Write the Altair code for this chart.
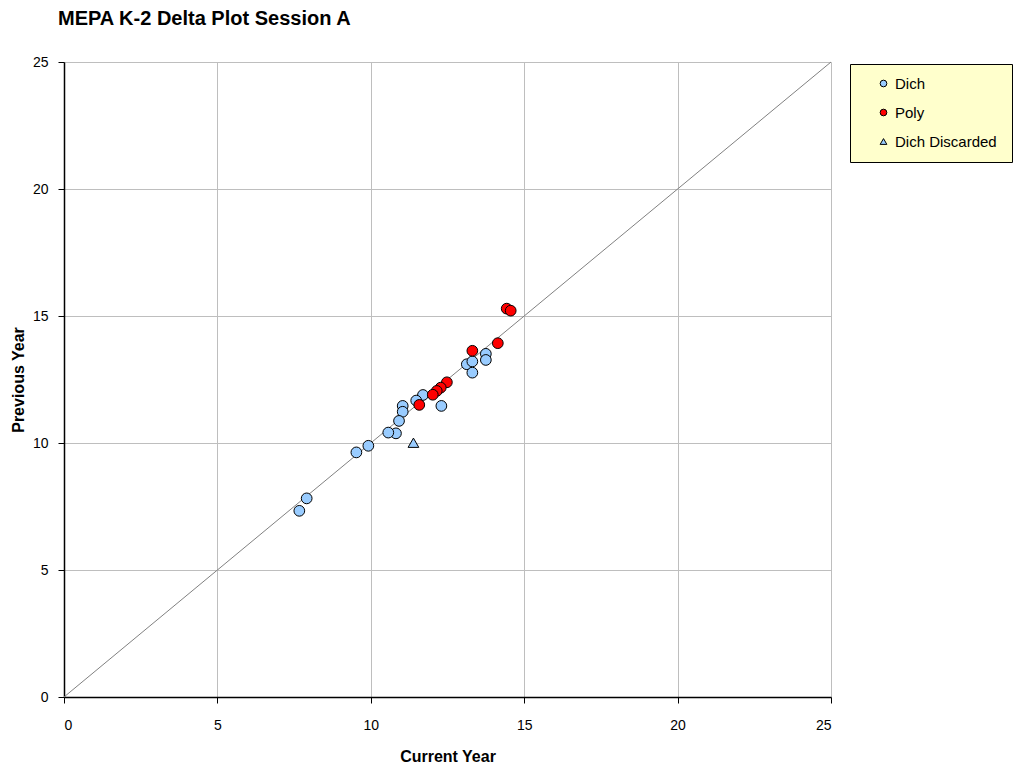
import altair as alt
import pandas as pd

# Dich items (Current Year, Previous Year)
dich_x = [13.75, 13.75, 13.13, 13.31, 13.31, 12.30, 11.70, 11.48, 11.04, 11.04, 10.92, 10.82, 10.57, 9.92, 9.53, 7.67, 7.91]
dich_y = [13.51, 13.27, 13.10, 13.21, 12.77, 11.46, 11.89, 11.67, 11.46, 11.23, 10.87, 10.38, 10.41, 9.89, 9.63, 7.33, 7.82]
# Poly items
poly_x = [12.48, 12.28, 12.15, 12.02, 11.58, 13.31, 14.14, 14.43, 14.56]
poly_y = [12.39, 12.18, 12.05, 11.90, 11.50, 13.63, 13.93, 15.29, 15.21]
# Dich discarded
disc_x = [11.39]
disc_y = [10.01]

categories = ["Dich", "Poly", "Dich Discarded"]
colors = ["#99CCFF", "#FF0000", "#99CCFF"]
shapes = ["circle", "circle", "triangle-up"]
ticks = [0, 5, 10, 15, 20, 25]
diag = [0, 25]

rows = []
for xs, ys, cat in [(dich_x, dich_y, "Dich"), (poly_x, poly_y, "Poly"), (disc_x, disc_y, "Dich Discarded")]:
    for a, b in zip(xs, ys):
        rows.append({"cur": a, "prev": b, "type": cat})
df = pd.DataFrame(rows)
df_diag = pd.DataFrame({"cur": diag, "prev": diag})

xscale = alt.Scale(domain=[0, 25], nice=False, zero=True)
yscale = alt.Scale(domain=[0, 25], nice=False, zero=True)

common = dict(values=ticks, tickSize=6, tickColor="black", domainColor="black", domainWidth=1.5,
              gridColor="#BEBEBE", gridWidth=1, labelFont="Liberation Sans", labelFontSize=14,
              labelColor="black", titleFont="Liberation Sans", titleFontSize=16,
              titleFontWeight="bold", titleColor="black")
xaxis = alt.Axis(title="Current Year", labelPadding=15, titlePadding=16, **common)
yaxis = alt.Axis(title="Previous Year", labelPadding=10, titlePadding=6, **common)

line = alt.Chart(df_diag).mark_line(color="#808080", strokeWidth=1).encode(
    x=alt.X("cur:Q", scale=xscale, axis=xaxis),
    y=alt.Y("prev:Q", scale=yscale, axis=yaxis),
)

points = alt.Chart(df).mark_point(filled=True, stroke="black", strokeWidth=1, opacity=1, size=115).encode(
    x=alt.X("cur:Q", scale=xscale),
    y=alt.Y("prev:Q", scale=yscale),
    color=alt.Color("type:N", scale=alt.Scale(domain=categories, range=colors),
                    legend=alt.Legend(title=None, orient="none", legendX=786, legendY=2,
                                      fillColor="#FFFFCC", strokeColor="black", padding=12,
                                      symbolOffset=14, rowPadding=13, labelFontSize=15,
                                      labelFont="Liberation Sans", labelColor="black",
                                      symbolSize=45, symbolStrokeColor="black", symbolStrokeWidth=1,
                                      labelExpr="datum.label + '\u2009\u200b'")),
    shape=alt.Shape("type:N", scale=alt.Scale(domain=categories, range=shapes)),
    order=alt.Order("ord:Q"),
).transform_calculate(ord="datum.type == 'Dich' ? 0 : (datum.type == 'Poly' ? 1 : 2)")

chart = alt.layer(line, points).properties(
    width=767, height=635,
    padding={"left": 56, "top": 54, "right": 182, "bottom": 66},
    autosize=alt.AutoSizeParams(type="none"),
    title=alt.TitleParams("MEPA K-2 Delta Plot Session A", anchor="start", frame="group",
                          dx=-6, offset=26, fontSize=20, fontWeight="bold",
                          font="Liberation Sans", color="black"),
).configure_view(strokeWidth=0).configure(background="white")

chart.save("out.html", embed_options={"renderer": "svg", "actions": False})
